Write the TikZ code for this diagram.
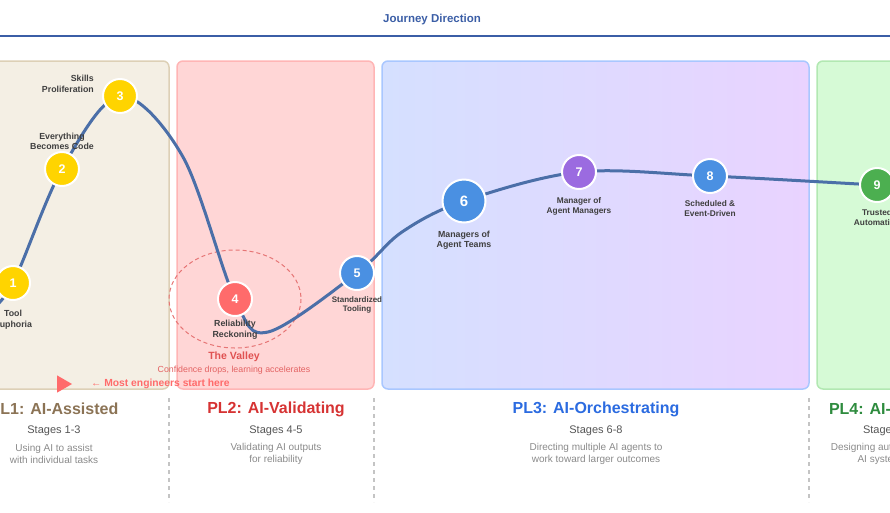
\documentclass[tikz,border=0pt]{standalone}
\usepackage{fontspec}
\setmainfont{Liberation Sans}
\usepackage{xcolor}
\usepackage{tikz}
\usetikzlibrary{positioning}
\usetikzlibrary{shapes.geometric}

\definecolor{journeyblue}{HTML}{3B5EA6}
\definecolor{curveblue}{HTML}{4B6FA8}
\definecolor{labelgray}{HTML}{3F3F3F}
\definecolor{stagegray}{HTML}{555555}
\definecolor{descgray}{HTML}{8A8A8A}
\definecolor{sepgray}{HTML}{C4C4C4}
\definecolor{goldstage}{HTML}{FFD400}
\definecolor{redstage}{HTML}{FF6B6B}
\definecolor{bluestage}{HTML}{4A90E2}
\definecolor{purplestage}{HTML}{9B6BE0}
\definecolor{greenstage}{HTML}{4CAF50}
\definecolor{plonefill}{HTML}{F4EFE4}
\definecolor{ploneline}{HTML}{DDD0B6}
\definecolor{plonetext}{HTML}{8B7355}
\definecolor{pltwofill}{HTML}{FFD6D6}
\definecolor{pltwoline}{HTML}{FFB5B5}
\definecolor{pltwotext}{HTML}{D63333}
\definecolor{plthreeleft}{HTML}{D5E0FF}
\definecolor{plthreeright}{HTML}{E9D3FF}
\definecolor{plthreeline}{HTML}{A9C7FF}
\definecolor{plthreetext}{HTML}{2B6BE0}
\definecolor{plfourfill}{HTML}{D6FAD6}
\definecolor{plfourline}{HTML}{B2E8B2}
\definecolor{plfourtext}{HTML}{2E8B3E}
\definecolor{valleyred}{HTML}{E05252}

\begin{document}
\begin{tikzpicture}[x=1pt,y=-1pt,
  stage/.style={circle, draw=white, line width=2pt, minimum size=34pt, inner sep=0pt,
    text=white, font=\fontsize{12.5}{12}\selectfont\bfseries},
  bigstage/.style={stage, minimum size=43pt, font=\fontsize{15}{15}\selectfont\bfseries},
  lbl/.style={align=center, text=labelgray, inner sep=0pt,
    font=\fontsize{8.8}{10.5}\selectfont\bfseries},
  panel/.style={rounded corners=6pt, line width=1.5pt},
  plhead/.style={font=\fontsize{16}{18}\selectfont\bfseries, inner sep=0pt},
  plstage/.style={text=stagegray, font=\fontsize{11}{13}\selectfont, inner sep=0pt},
  pldesc/.style={text=descgray, align=center, font=\fontsize{10}{12.5}\selectfont, inner sep=0pt},
  separator/.style={draw=sepgray, line width=1.2pt, dash pattern=on 4pt off 4pt},
  curve/.style={draw=curveblue, line width=3pt, line cap=round}
]
\useasboundingbox (0,0) rectangle (890,512);
\clip (0,0) rectangle (890,512);

% journey direction
\node[text=journeyblue, font=\fontsize{11.5}{13}\selectfont\bfseries] (journey) at (432,20) {Journey Direction};
\draw[journeyblue, line width=2pt] (0,36) -- (890,36);

% panels
\draw[panel, fill=plonefill, draw=ploneline] (-70,61) rectangle (169,389);
\draw[panel, fill=pltwofill, draw=pltwoline] (177,61) rectangle (374,389);
\shade[panel, left color=plthreeleft, right color=plthreeright] (382,61) rectangle (809,389);
\draw[panel, draw=plthreeline] (382,61) rectangle (809,389);
\draw[panel, fill=plfourfill, draw=plfourline] (817,61) rectangle (950,389);

% stage positions
\coordinate (p1) at (13,283);
\coordinate (p2) at (62,169);
\coordinate (p3) at (120,96);
\coordinate (k1) at (183,157);
\coordinate (p4) at (235,299);
\coordinate (dip) at (268,332);
\coordinate (p5) at (357,273);
\coordinate (k2) at (402,232);
\coordinate (p6) at (464,201);
\coordinate (p7) at (579,172);
\coordinate (p8) at (710,176);
\coordinate (p9) at (877,185);
\coordinate (start) at (-12,312);
\coordinate (end) at (905,186);

% the valley
\draw[valleyred!80, line width=1pt, dash pattern=on 4pt off 3pt] (p4) ellipse [x radius=66, y radius=49];

% journey curve
\draw[curve] plot[smooth, tension=0.55] coordinates {(start) (p1) (p2) (p3) (k1) (p4) (dip) (p5) (k2) (p6) (p7) (p8) (p9) (end)};

% stages
\node[stage, fill=goldstage] (s1) at (p1) {1};
\node[stage, fill=goldstage] (s2) at (p2) {2};
\node[stage, fill=goldstage] (s3) at (p3) {3};
\node[stage, fill=redstage] (s4) at (p4) {4};
\node[stage, fill=bluestage] (s5) at (p5) {5};
\node[bigstage, fill=bluestage] (s6) at (p6) {6};
\node[stage, fill=purplestage] (s7) at (p7) {7};
\node[stage, fill=bluestage] (s8) at (p8) {8};
\node[stage, fill=greenstage] (s9) at (p9) {9};

\node[lbl, below=9pt of s1] (l1) {Tool\\Euphoria};
\node[lbl, above=1pt of s2] (l2) {Everything\\Becomes Code};
\node[lbl, align=right, left=8pt of s3, yshift=12pt] (l3) {Skills\\Proliferation};
\node[lbl, below=3pt of s4] (l4) {Reliability\\Reckoning};
\node[lbl, below=5pt of s5, font=\fontsize{8}{9.5}\selectfont\bfseries] (l5) {Standardized\\Tooling};
\node[lbl, below=7pt of s6] (l6) {Managers of\\Agent Teams};
\node[lbl, below=7pt of s7, font=\fontsize{8.3}{10}\selectfont\bfseries] (l7) {Manager of\\Agent Managers};
\node[lbl, below=6pt of s8, font=\fontsize{8.3}{10}\selectfont\bfseries] (l8) {Scheduled \&\\Event-Driven};
\node[lbl, below=6pt of s9, font=\fontsize{8.3}{10}\selectfont\bfseries] (l9) {Trusted\\Automation};

\node[text=valleyred, font=\fontsize{10.5}{12}\selectfont\bfseries] (valley) at (234,357) {The Valley};
\node[text=valleyred!90, font=\fontsize{8.8}{10}\selectfont] (valleynote) at (234,370) {Confidence drops, learning accelerates};

% start marker
\node[isosceles triangle, fill=redstage, inner sep=0pt, minimum height=15pt, minimum width=16pt,
  isosceles triangle apex angle=60] (startmark) at (62,384) {};
\node[anchor=west, text=redstage, font=\fontsize{10.3}{12}\selectfont\bfseries, inner sep=0pt] (starttext) at (91,384) {← Most engineers start here};

% separators
\draw[separator] (169,398) -- (169,502);
\draw[separator] (374,398) -- (374,502);
\draw[separator] (809,398) -- (809,502);

% levels
\node[plhead, text=plonetext] (pl1) at (54,409) {PL1: AI-Assisted};
\node[plstage] (st1) at (54,431) {Stages 1-3};
\node[pldesc] (d1) at (54,454) {Using AI to assist\\with individual tasks};

\node[plhead, text=pltwotext] (pl2) at (276,409) {PL2: AI-Validating};
\node[plstage] (st2) at (276,431) {Stages 4-5};
\node[pldesc] (d2) at (276,454) {Validating AI outputs\\for reliability};

\node[plhead, text=plthreetext] (pl3) at (596,409) {PL3: AI-Orchestrating};
\node[plstage] (st3) at (596,431) {Stages 6-8};
\node[pldesc] (d3) at (596,454) {Directing multiple AI agents to\\work toward larger outcomes};

\node[plhead, text=plfourtext] (pl4) at (884,409) {PL4: AI-Native};
\node[plstage] (st4) at (882,431) {Stage 9};
\node[pldesc] (d4) at (882,454) {Designing autonomous\\AI systems};
\end{tikzpicture}
\end{document}
